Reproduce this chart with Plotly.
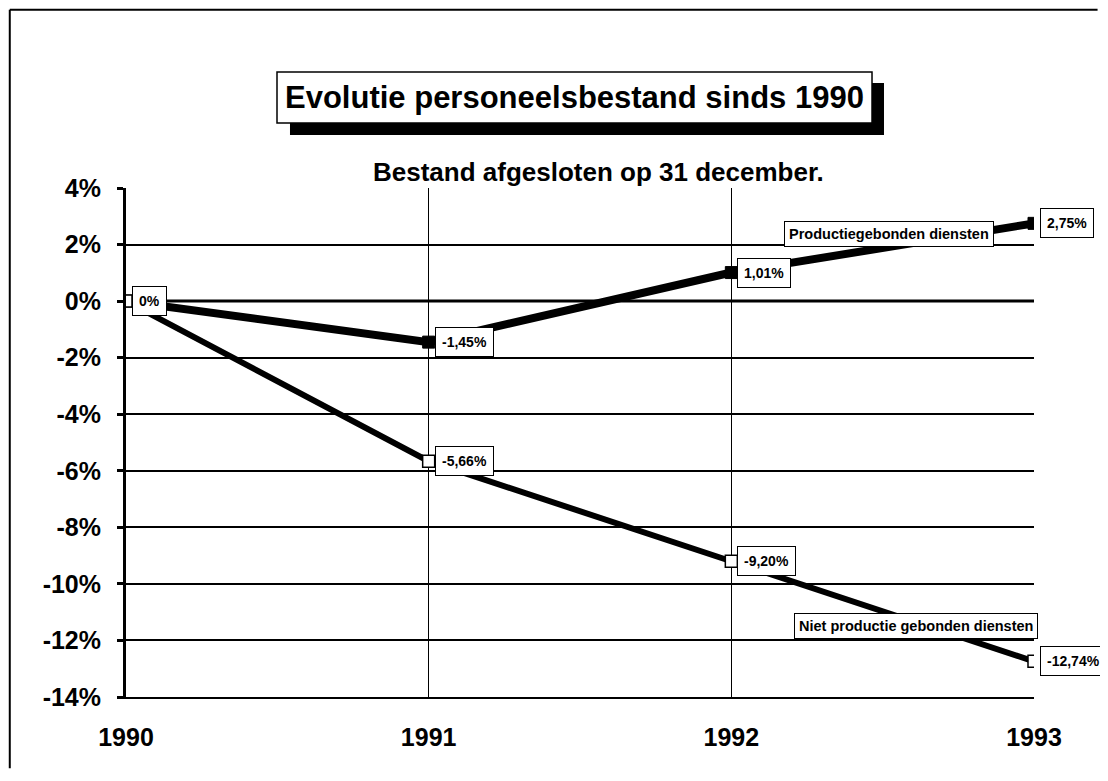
import plotly.graph_objects as go

# data (percent change vs 1990)
years = [1990, 1991, 1992, 1993]
productie = [0, -1.45, 1.01, 2.75]
niet_productie = [0, -5.66, -9.20, -12.74]
y_ticks = [-14, -12, -10, -8, -6, -4, -2, 0, 2, 4]
series_names = ["Productiegebonden diensten", "Niet productie gebonden diensten"]

FONT = "Liberation Sans, Arial, Helvetica, sans-serif"


def pct_label(v):
    if v == 0:
        return "0%"
    return f"{v:.2f}".replace(".", ",") + "%"


fig = go.Figure()

fig.add_trace(go.Scatter(
    x=years, y=productie, mode="lines+markers", name=series_names[0],
    line=dict(color="black", width=8),
    marker=dict(symbol="square", size=12, color="black", line=dict(color="black", width=1)),
))
fig.add_trace(go.Scatter(
    x=years, y=niet_productie, mode="lines+markers", name=series_names[1],
    line=dict(color="black", width=6),
    marker=dict(symbol="square", size=12, color="white", line=dict(color="black", width=1.5)),
))

annotations = []

# boxed value labels to the right of each point
def value_box(x, y):
    return dict(
        x=x, y=y, xref="x", yref="y", text=pct_label(y), showarrow=False,
        xanchor="left", yanchor="middle", xshift=6,
        font=dict(family=FONT, size=14, color="black", weight="bold"),
        bgcolor="white", bordercolor="black", borderwidth=1, borderpad=6,
    )

annotations.append(value_box(years[0], productie[0]))
for x, y in zip(years[1:], productie[1:]):
    annotations.append(value_box(x, y))
for x, y in zip(years[1:], niet_productie[1:]):
    annotations.append(value_box(x, y))

# series name boxes
annotations.append(dict(
    x=1992.52, y=2.37, xref="x", yref="y", text=series_names[0], showarrow=False,
    font=dict(family=FONT, size=14.5, color="black", weight="bold"),
    bgcolor="white", bordercolor="black", borderwidth=1, borderpad=4,
))
annotations.append(dict(
    x=1992.61, y=-11.49, xref="x", yref="y", text=series_names[1], showarrow=False,
    font=dict(family=FONT, size=14.5, color="black", weight="bold"),
    bgcolor="white", bordercolor="black", borderwidth=1, borderpad=4,
))

# title and subtitle
annotations.append(dict(
    x=0.494, y=1.178, xref="paper", yref="paper", text="Evolutie personeelsbestand sinds 1990",
    showarrow=False, xanchor="center", yanchor="middle",
    font=dict(family=FONT, size=31, color="black", weight="bold"),
))
annotations.append(dict(
    x=0.52, y=1.031, xref="paper", yref="paper", text="Bestand afgesloten op 31 december.",
    showarrow=False, xanchor="center", yanchor="middle",
    font=dict(family=FONT, size=26, color="black", weight="bold"),
))

shapes = [
    # outer frame (left and top edges only are visible)
    dict(type="line", xref="paper", yref="paper", x0=-0.128, x1=-0.128, y0=-0.14, y1=1.35,
         line=dict(color="black", width=2), layer="below"),
    dict(type="line", xref="paper", yref="paper", x0=-0.128, x1=1.07, y0=1.35, y1=1.35,
         line=dict(color="black", width=2), layer="below"),
    # title shadow + box
    dict(type="rect", xref="paper", yref="paper", x0=0.1806, x1=0.8348, y0=1.1041, y1=1.2063,
         fillcolor="black", line=dict(color="black", width=0)),
    dict(type="rect", xref="paper", yref="paper", x0=0.1663, x1=0.8216, y0=1.1277, y1=1.228,
         fillcolor="white", line=dict(color="black", width=1.5)),
    # thicker zero line
    dict(type="line", xref="paper", yref="y", x0=0, x1=1, y0=0, y1=0,
         line=dict(color="black", width=3), layer="below"),
]

fig.update_layout(
    width=1092, height=765,
    margin=dict(l=118, r=66, t=180, b=76),
    paper_bgcolor="white", plot_bgcolor="white",
    showlegend=False,
    annotations=annotations,
    shapes=shapes,
    xaxis=dict(
        range=[1990, 1993], tickvals=years, ticktext=[str(y) for y in years],
        showgrid=True, gridcolor="black", gridwidth=1,
        showline=True, linecolor="black", linewidth=2,
        zeroline=False, ticks="", ticklabelstandoff=17,
        tickfont=dict(family=FONT, size=25, color="black", weight="bold"),
    ),
    yaxis=dict(
        range=[-14, 4], tickvals=y_ticks, ticktext=[f"{v}%" for v in y_ticks],
        showgrid=True, gridcolor="black", gridwidth=1.5,
        showline=True, linecolor="black", linewidth=3,
        zeroline=False, ticks="outside", ticklen=6, tickwidth=3, tickcolor="black",
        ticklabelstandoff=11,
        tickfont=dict(family=FONT, size=25, color="black", weight="bold"),
    ),
)

fig.write_html("out.html")
